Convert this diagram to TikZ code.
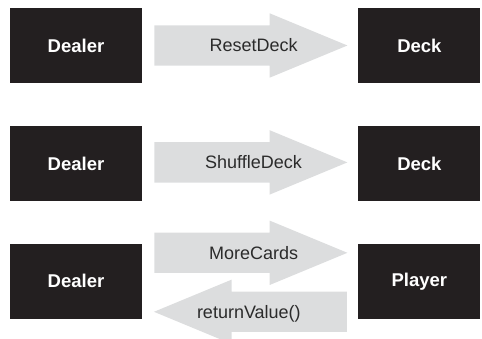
\documentclass[tikz,border=0pt]{standalone}
\usepackage{fontspec}
\setmainfont{Liberation Sans}
\usetikzlibrary{positioning, shapes.arrows}

\definecolor{boxblack}{HTML}{231F20}
\definecolor{arrowgray}{HTML}{DCDDDE}
\definecolor{msggray}{HTML}{2B2B2B}

\begin{document}
\begin{tikzpicture}[
    x=1pt, y=1pt,
    actor/.style={rectangle, fill=boxblack, text=white, minimum height=75pt, inner sep=0pt, font=\fontsize{18.5}{22}\selectfont\bfseries},
    leftactor/.style={actor, minimum width=132pt},
    rightactor/.style={actor, minimum width=122pt},
    msgbase/.style={single arrow, fill=arrowgray, text=msggray, minimum height=193pt, minimum width=64pt,
                single arrow head extend=12pt, single arrow tip angle=45, single arrow head indent=0pt,
                inner xsep=0pt, inner ysep=13.55pt, text height=12.9pt, text depth=0pt,
                font=\fontsize{18}{22}\selectfont},
    msg/.style={msgbase, execute at begin node={\hspace*{27pt}}, execute at end node={\hspace*{-27pt}}},
    backmsg/.style={msgbase, shape border rotate=180, execute at begin node={\hspace*{-26pt}}, execute at end node={\hspace*{26pt}}}
]
\useasboundingbox (0,0) rectangle (482,339);

% --- Linha 1: ResetDeck ---
\node[leftactor] (dealer1) at (76,293.5) {Dealer};
\node[rightactor, right=216pt of dealer1] (deck1) {Deck};
\node[msg, right=12pt of dealer1] (reset) {ResetDeck};

% --- Linha 2: ShuffleDeck ---
\node[leftactor, below=43pt of dealer1] (dealer2) {Dealer};
\node[rightactor, right=216pt of dealer2] (deck2) {Deck};
\node[msg, right=12pt of dealer2, yshift=1.5pt] (shuffle) {ShuffleDeck};

% --- Linha 3: MoreCards / returnValue() ---
\node[leftactor, below=42pt of dealer2] (dealer3) {Dealer};
\node[rightactor, right=216pt of dealer3] (player) {Player};
\node[msg, right=12pt of dealer3, yshift=28.5pt] (morecards) {MoreCards};
\node[backmsg, left=11pt of player, yshift=-30.5pt] (retval) {returnValue()};

\end{tikzpicture}
\end{document}
